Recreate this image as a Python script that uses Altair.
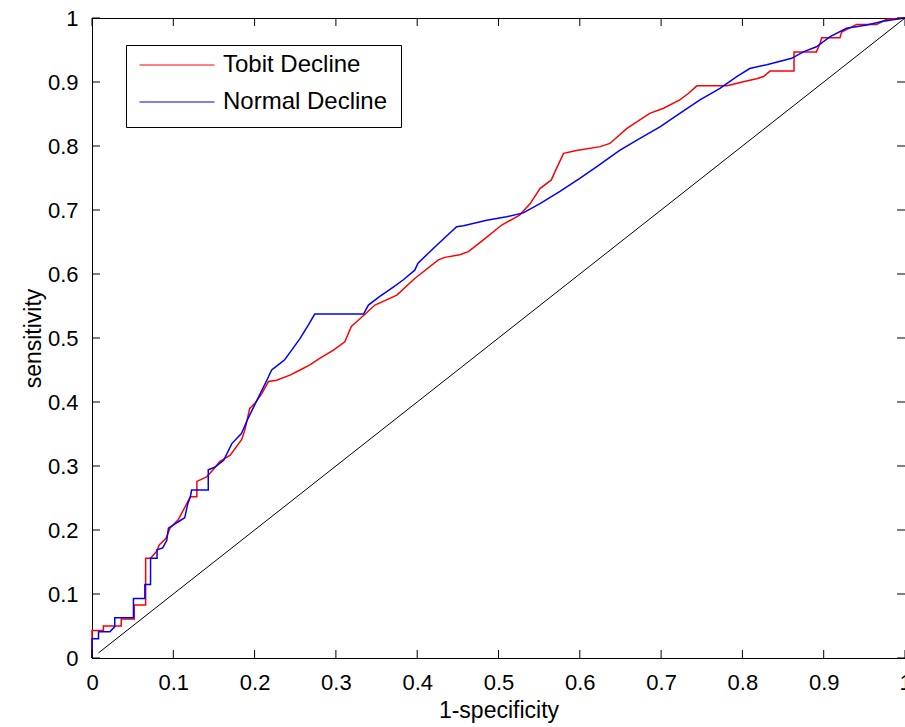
import altair as alt
import pandas as pd

# ---- data ----
tobit_x = [0, 0, 0.014, 0.014, 0.036, 0.036, 0.052, 0.052, 0.066, 0.066, 0.072, 0.079, 0.083, 0.091,
           0.096, 0.106, 0.114, 0.121, 0.129, 0.129, 0.141, 0.149, 0.157, 0.170, 0.184, 0.188, 0.194,
           0.2005, 0.209, 0.217, 0.227, 0.2435, 0.256, 0.268, 0.280, 0.297, 0.311, 0.319, 0.330, 0.348,
           0.375, 0.397, 0.426, 0.434, 0.4525, 0.463, 0.481, 0.504, 0.526, 0.539, 0.551, 0.565, 0.5695,
           0.580, 0.596, 0.625, 0.637, 0.658, 0.686, 0.703, 0.723, 0.7335, 0.744, 0.781, 0.801, 0.8175,
           0.826, 0.834, 0.8635, 0.8635, 0.891, 0.8955, 0.8975, 0.920, 0.922, 0.9405, 0.965, 0.9775, 1.0]
tobit_y = [0, 0.043, 0.043, 0.050, 0.050, 0.061, 0.061, 0.083, 0.083, 0.156, 0.156, 0.166, 0.177, 0.187,
           0.203, 0.216, 0.235, 0.252, 0.252, 0.276, 0.283, 0.294, 0.307, 0.317, 0.341, 0.356, 0.390,
           0.398, 0.4135, 0.432, 0.434, 0.442, 0.450, 0.458, 0.468, 0.481, 0.494, 0.518, 0.5305, 0.5515,
           0.567, 0.593, 0.622, 0.626, 0.630, 0.635, 0.653, 0.6765, 0.692, 0.710, 0.7335, 0.747, 0.760,
           0.7885, 0.793, 0.799, 0.804, 0.8276, 0.851, 0.859, 0.872, 0.882, 0.894, 0.894, 0.9005, 0.905,
           0.9085, 0.917, 0.917, 0.947, 0.947, 0.960, 0.969, 0.969, 0.978, 0.990, 0.990, 0.998, 1.0]

normal_x = [0, 0, 0.008, 0.008, 0.022, 0.028, 0.028, 0.051, 0.051, 0.065, 0.065, 0.072, 0.072, 0.080,
            0.080, 0.087, 0.092, 0.094, 0.110, 0.114, 0.118, 0.121, 0.1225, 0.143, 0.143, 0.151, 0.157,
            0.162, 0.172, 0.184, 0.192, 0.205, 0.215, 0.221, 0.229, 0.237, 0.2456, 0.256, 0.266, 0.274,
            0.334, 0.340, 0.354, 0.371, 0.383, 0.397, 0.401, 0.424, 0.4485, 0.457, 0.4855, 0.510, 0.5305,
            0.551, 0.5756, 0.600, 0.6236, 0.649, 0.674, 0.6986, 0.723, 0.7478, 0.7724, 0.793, 0.809,
            0.830, 0.8606, 0.875, 0.891, 0.908, 0.928, 0.953, 0.973, 1.0]
normal_y = [0, 0.030, 0.030, 0.041, 0.041, 0.049, 0.063, 0.063, 0.093, 0.093, 0.115, 0.115, 0.156, 0.156,
            0.169, 0.172, 0.184, 0.203, 0.216, 0.219, 0.242, 0.252, 0.2625, 0.2625, 0.294, 0.298, 0.304,
            0.309, 0.335, 0.351, 0.3745, 0.408, 0.434, 0.450, 0.458, 0.466, 0.481, 0.4995, 0.520, 0.5375,
            0.5375, 0.5515, 0.565, 0.580, 0.591, 0.606, 0.617, 0.645, 0.674, 0.6755, 0.684, 0.6895, 0.6955,
            0.710, 0.729, 0.7495, 0.770, 0.793, 0.812, 0.830, 0.851, 0.872, 0.890, 0.9085, 0.921,
            0.927, 0.937, 0.947, 0.955, 0.971, 0.984, 0.989, 0.995, 1.0]

diag_x = [0.008, 1.0]
diag_y = [0.008, 1.0]

series_names = ["Tobit Decline", "Normal Decline"]
series_colors = ["#ff0000", "#0000ff"]

tick_values = [0, 0.1, 0.2, 0.3, 0.4, 0.5, 0.6, 0.7, 0.8, 0.9, 1]

# ---- tables ----
rows = []
for name, xs, ys in [(series_names[0], tobit_x, tobit_y), (series_names[1], normal_x, normal_y)]:
    for i, (a, b) in enumerate(zip(xs, ys)):
        rows.append({"series": name, "x": a, "y": b, "i": i})
curves_df = pd.DataFrame(rows)
diag_df = pd.DataFrame({"x": diag_x, "y": diag_y})
ticks_df = pd.DataFrame({"x": tick_values, "y": tick_values})

FONT = "Liberation Sans"
W, H = 813, 640
TL = 8

xscale = alt.Scale(domain=[0, 1], nice=False, zero=False)
yscale = alt.Scale(domain=[0, 1], nice=False, zero=False)

xaxis = alt.Axis(values=tick_values, format="~g", title="1-specificity", labelFlush=False,
                 ticks=False, domain=False, grid=False, labelPadding=14, titlePadding=6)
yaxis = alt.Axis(values=tick_values, format="~g", title="sensitivity", labelFlush=False,
                 ticks=False, domain=False, grid=False, labelPadding=14, titlePadding=2)

X = alt.X("x:Q", scale=xscale, axis=xaxis)
Y = alt.Y("y:Q", scale=yscale, axis=yaxis)

diag = alt.Chart(diag_df).mark_line(color="black", strokeWidth=1).encode(x=X, y=Y)

curves = alt.Chart(curves_df).mark_line(strokeWidth=1.5).encode(
    x=X,
    y=Y,
    order="i:Q",
    color=alt.Color(
        "series:N",
        sort=series_names,
        scale=alt.Scale(domain=series_names, range=series_colors),
        legend=alt.Legend(
            title=None, orient="none", legendX=34, legendY=27,
            symbolType="stroke", symbolSize=5625, symbolStrokeWidth=1,
            clipHeight=14, rowPadding=13, padding=13,
            strokeColor="black", fillColor="white",
            labelFont=FONT, labelFontSize=24, labelColor="black", labelOffset=8,
            labelLimit=400,
        ),
    ),
)

bottom_ticks = alt.Chart(ticks_df).mark_rule(color="black", strokeWidth=1).encode(
    x=X, y=alt.value(H), y2=alt.value(H - TL))
top_ticks = alt.Chart(ticks_df).mark_rule(color="black", strokeWidth=1).encode(
    x=X, y=alt.value(0), y2=alt.value(TL))
left_ticks = alt.Chart(ticks_df).mark_rule(color="black", strokeWidth=1).encode(
    y=Y, x=alt.value(0), x2=alt.value(TL))
right_ticks = alt.Chart(ticks_df).mark_rule(color="black", strokeWidth=1).encode(
    y=Y, x=alt.value(W), x2=alt.value(W - TL))

chart = alt.layer(diag, curves, bottom_ticks, top_ticks, left_ticks, right_ticks).properties(
    width=W, height=H,
    padding={"left": 92, "top": 18, "right": 0, "bottom": 69},
    autosize=alt.AutoSizeParams(type="none"),
    background="white",
).configure_view(
    stroke="black", strokeWidth=1
).configure_axis(
    labelFont=FONT, labelFontSize=22, labelColor="black",
    titleFont=FONT, titleFontSize=23, titleFontWeight="normal", titleColor="black",
)

chart.save("out.html", embed_options={"renderer": "svg", "actions": False})
